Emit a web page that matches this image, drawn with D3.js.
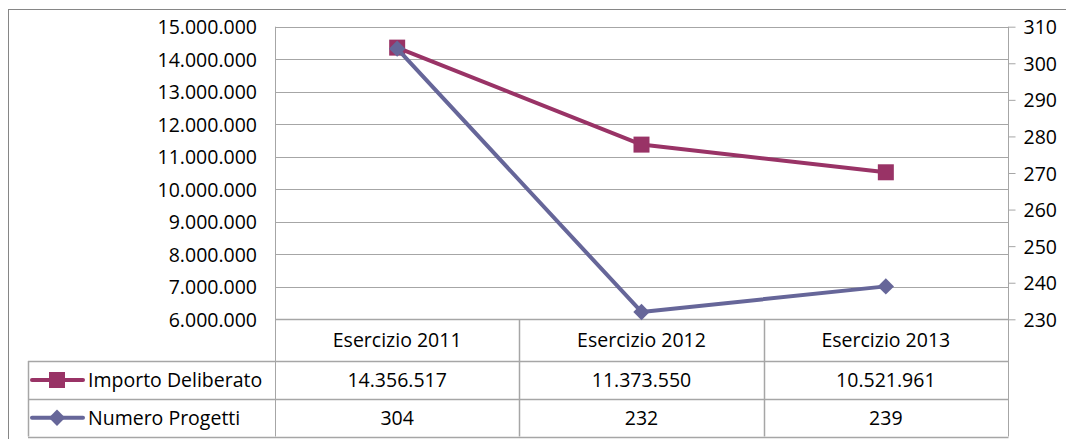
<!DOCTYPE html>
<html><head><meta charset="utf-8">
<script src="https://cdn.jsdelivr.net/npm/d3@7"></script>
<style>html,body{margin:0;padding:0;background:#fff;}svg{display:block;}</style>
</head><body>
<svg id="c" width="1066" height="439"></svg>
<script>
const categories = ["Esercizio 2011", "Esercizio 2012", "Esercizio 2013"];
const importo = [14356517, 11373550, 10521961];
const progetti = [304, 232, 239];
const importoLabels = ["14.356.517", "11.373.550", "10.521.961"];
const progettiLabels = ["304", "232", "239"];
const leftTicks = [6000000,7000000,8000000,9000000,10000000,11000000,12000000,13000000,14000000,15000000];
const rightTicks = [230,240,250,260,270,280,290,300,310];
const seriesNames = ["Importo Deliberato", "Numero Progetti"];

const svg = d3.select("#c");
const font = "'Open Sans', sans-serif";
const fs = 19.5;
const grid = "#a6a6a6";
const cImp = "#993366", cNum = "#666699";

const L = 275, R = 1008, T = 26.7, B = 319.3;
const rows = [319.3, 361, 399, 436.5];
const legendLeft = 28;

svg.append("rect").attr("x",8.5).attr("y",9.5).attr("width",1080).attr("height",460)
  .attr("fill","none").attr("stroke","#868686").attr("stroke-width",1);

const x = d3.scaleBand().domain(categories).range([L, R]).padding(0);
const yL = d3.scaleLinear().domain([6000000, 15000000]).range([B, T]);
const yR = d3.scaleLinear().domain([230, 310]).range([B, T]);
const fmt = d => d3.format(",")(d).replace(/,/g, ".");

// gridlines
svg.append("g").selectAll("line").data(leftTicks).join("line")
  .attr("x1", L).attr("x2", R).attr("y1", d => Math.round(yL(d))+0.5).attr("y2", d => Math.round(yL(d))+0.5)
  .attr("stroke", grid).attr("stroke-width", 1);

// left axis labels
const gL = svg.append("g").attr("transform", `translate(${L},0)`)
  .call(d3.axisLeft(yL).tickValues(leftTicks).tickFormat(fmt).tickSize(0).tickPadding(18));
gL.select(".domain").remove();
gL.selectAll("text").attr("font-family", font).attr("font-size", fs).attr("fill", "#000").attr("dy","0.36em");

// right axis
const gR = svg.append("g").attr("transform", `translate(${R+0.5},0)`)
  .call(d3.axisRight(yR).tickValues(rightTicks).tickSize(7).tickPadding(8));
gR.select(".domain").remove();
gR.selectAll("line").attr("stroke", grid);
gR.selectAll("text").attr("font-family", font).attr("font-size", fs).attr("fill", "#000").attr("dy","0.36em");

// vertical axis lines
svg.append("line").attr("x1", L+0.5).attr("x2", L+0.5).attr("y1", T).attr("y2", rows[3]).attr("stroke", grid);
svg.append("line").attr("x1", R+0.5).attr("x2", R+0.5).attr("y1", T).attr("y2", rows[3]).attr("stroke", grid);

// data table
const tbl = svg.append("g");
tbl.selectAll("line.h").data(rows).join("line")
  .attr("x1", (d,i) => i === 0 ? L : legendLeft).attr("x2", R+0.5)
  .attr("y1", d => Math.round(d)+0.5).attr("y2", d => Math.round(d)+0.5)
  .attr("stroke", grid).attr("stroke-width", 1.5);
tbl.selectAll("line.v").data(categories.slice(1)).join("line")
  .attr("x1", d => Math.round(x(d))+0.5).attr("x2", d => Math.round(x(d))+0.5)
  .attr("y1", rows[0]).attr("y2", rows[3]).attr("stroke", grid).attr("stroke-width", 1.5);
tbl.append("line").attr("x1", legendLeft+0.5).attr("x2", legendLeft+0.5).attr("y1", rows[1]).attr("y2", rows[3])
  .attr("stroke", grid).attr("stroke-width", 1.5);

tbl.selectAll("text.cat").data(categories).join("text")
  .attr("x", d => x(d) + x.bandwidth()/2).attr("y", (rows[0]+rows[1])/2).attr("dy","0.36em")
  .attr("text-anchor","middle").attr("font-family",font).attr("font-size",fs).text(d => d);
tbl.selectAll("text.imp").data(importoLabels).join("text")
  .attr("x", (d,i) => x(categories[i]) + x.bandwidth()/2).attr("y", (rows[1]+rows[2])/2).attr("dy","0.36em")
  .attr("text-anchor","middle").attr("font-family",font).attr("font-size",fs).text(d => d);
tbl.selectAll("text.num").data(progettiLabels).join("text")
  .attr("x", (d,i) => x(categories[i]) + x.bandwidth()/2).attr("y", (rows[2]+rows[3])/2).attr("dy","0.36em")
  .attr("text-anchor","middle").attr("font-family",font).attr("font-size",fs).text(d => d);

// legend keys
const keyY = [(rows[1]+rows[2])/2, (rows[2]+rows[3])/2];
[cImp, cNum].forEach((c, i) => {
  const g = tbl.append("g");
  g.append("line").attr("x1", 32).attr("x2", 83).attr("y1", keyY[i]).attr("y2", keyY[i])
    .attr("stroke", c).attr("stroke-width", 4).attr("stroke-linecap","round");
  if (i === 0) g.append("rect").attr("x", 49).attr("y", keyY[i]-8).attr("width", 16).attr("height", 16).attr("fill", c);
  else g.append("path").attr("d", d3.symbol(d3.symbolDiamond2, 170)()).attr("transform", `translate(57,${keyY[i]})`).attr("fill", c);
  g.append("text").attr("x", 88).attr("y", keyY[i]).attr("dy","0.36em")
    .attr("font-family",font).attr("font-size",fs).text(seriesNames[i]);
});

// series
const cx = d => x(d) + x.bandwidth()/2;
svg.append("path").datum(importo)
  .attr("d", d3.line().x((d,i) => cx(categories[i])).y(d => yL(d)))
  .attr("fill","none").attr("stroke", cImp).attr("stroke-width", 4).attr("stroke-linejoin","round");
svg.selectAll("rect.mk").data(importo).join("rect")
  .attr("x", (d,i) => cx(categories[i]) - 8).attr("y", d => yL(d) - 8)
  .attr("width", 16).attr("height", 16).attr("fill", cImp);

svg.append("path").datum(progetti)
  .attr("d", d3.line().x((d,i) => cx(categories[i])).y(d => yR(d)))
  .attr("fill","none").attr("stroke", cNum).attr("stroke-width", 4).attr("stroke-linejoin","round");
svg.selectAll("path.dm").data(progetti).join("path")
  .attr("d", d3.symbol(d3.symbolDiamond2, 170)())
  .attr("transform", (d,i) => `translate(${cx(categories[i])},${yR(d)})`).attr("fill", cNum);
</script>
</body></html>
